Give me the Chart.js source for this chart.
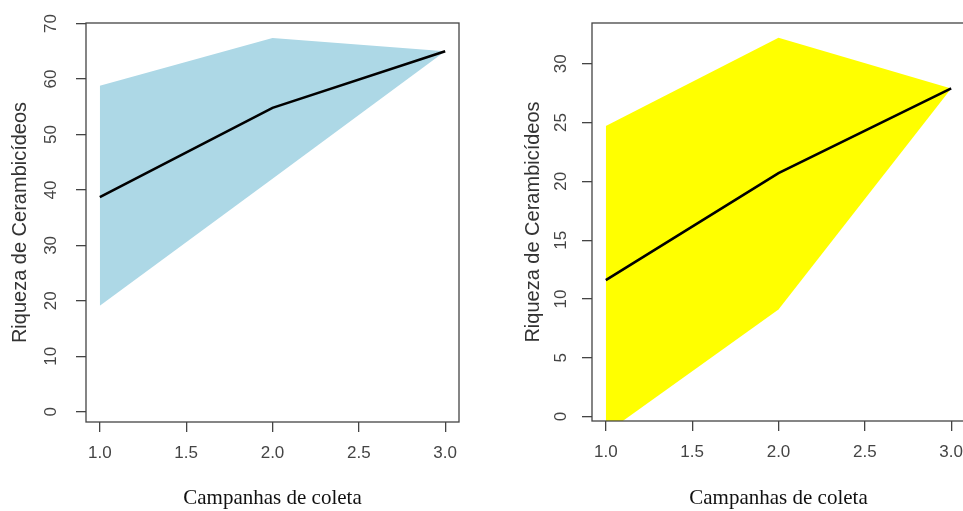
<!DOCTYPE html>
<html><head><meta charset="utf-8">
<script src="https://cdn.jsdelivr.net/npm/chart.js@4.4.1/dist/chart.umd.min.js"></script>
<style>
html,body{margin:0;padding:0;background:#fff;overflow:hidden;width:963px;height:511px;}
#wrap{position:relative;width:963px;height:511px;overflow:hidden;}
#c1{position:absolute;left:0;top:0;}
#c2{position:absolute;left:480px;top:0;}
</style></head><body>
<div id="wrap">
<canvas id="c1" width="480" height="511"></canvas>
<canvas id="c2" width="520" height="511"></canvas>
</div>
<script>
// ---- data ----
const campanhas = [1, 2, 3];
const xTicks = [1.0, 1.5, 2.0, 2.5, 3.0];
const leftUpper = [58.8, 67.4, 65.0];
const leftMean  = [38.7, 54.8, 65.0];
const leftLower = [19.1, 42.0, 65.0];
const leftYTicks = [0, 10, 20, 30, 40, 50, 60, 70];
const rightUpper = [24.7, 32.2, 27.9];
const rightMean  = [11.6, 20.7, 27.9];
const rightLower = [-1.4, 9.1, 27.9];
const rightYTicks = [0, 5, 10, 15, 20, 25, 30];
const xTitle = 'Campanhas de coleta';
const yTitle = 'Riqueza de Cerambicídeos';

Chart.defaults.font.family = '"Liberation Sans", Arial, sans-serif';

const framePlugin = {
  id: 'frame',
  afterDatasetsDraw(chart, args, opts) {
    const {ctx, chartArea: a} = chart;
    ctx.save();
    ctx.strokeStyle = '#444';
    ctx.lineWidth = 1.3;
    ctx.strokeRect(a.left, a.top, a.right - a.left, a.bottom - a.top);
    const ys = chart.scales.y;
    ctx.fillStyle = '#444';
    ctx.font = '17px "Liberation Sans", Arial, sans-serif';
    ctx.textAlign = 'center';
    ctx.textBaseline = 'middle';
    ys.ticks.forEach(t => {
      const py = ys.getPixelForValue(t.value);
      ctx.save();
      ctx.translate(opts.labelX, py);
      ctx.rotate(-Math.PI / 2);
      ctx.fillText(String(t.value), 0, 0);
      ctx.restore();
    });
    ctx.restore();
  }
};

function pts(ys) { return campanhas.map((x, i) => ({x: x, y: ys[i]})); }

function makeChart(id, upper, mean, lower, yTicks, yMin, yMax, fillColor, L) {
  return new Chart(document.getElementById(id), {
    type: 'line',
    data: {
      datasets: [
        {data: pts(mean), borderColor: '#000', borderWidth: 2.6, pointRadius: 0, fill: false, order: 0, tension: 0},
        {data: pts(upper), borderColor: 'rgba(0,0,0,0)', borderWidth: 0, pointRadius: 0, backgroundColor: fillColor, fill: '+1', order: 1, tension: 0},
        {data: pts(lower), borderColor: 'rgba(0,0,0,0)', borderWidth: 0, pointRadius: 0, fill: false, order: 1, tension: 0}
      ]
    },
    options: {
      responsive: false,
      animation: false,
      devicePixelRatio: 1,
      events: [],
      layout: {padding: {left: 0, top: L.top, right: L.right, bottom: 0}},
      plugins: {
        legend: {display: false},
        tooltip: {enabled: false},
        filler: {drawTime: 'beforeDatasetsDraw'},
        frame: {labelX: L.labelX}
      },
      scales: {
        x: {
          type: 'linear', min: 0.92, max: 3.08,
          afterBuildTicks: s => { s.ticks = xTicks.map(v => ({value: v})); },
          ticks: {callback: v => Number(v).toFixed(1), font: {size: 17}, color: '#444', padding: 11, maxRotation: 0, autoSkip: false},
          grid: {drawOnChartArea: false, drawTicks: true, tickLength: 10, color: '#444', lineWidth: 1.3},
          border: {display: false},
          title: {display: true, text: xTitle, font: {family: '"Liberation Serif", "Times New Roman", serif', size: 21}, color: '#111', padding: {top: 0, bottom: 0}},
          afterFit: s => { s.height = L.xHeight; s.paddingLeft = 0; s.paddingRight = 0; }
        },
        y: {
          type: 'linear', min: yMin, max: yMax,
          afterBuildTicks: s => { s.ticks = yTicks.map(v => ({value: v})); },
          ticks: {display: false},
          grid: {drawOnChartArea: false, drawTicks: true, tickLength: 10, color: '#444', lineWidth: 1.3},
          border: {display: false},
          title: {display: true, text: yTitle, font: {size: 20}, color: '#333', padding: {top: L.yTitlePad, bottom: 0}},
          afterFit: s => { s.width = L.yWidth; s.paddingTop = 0; s.paddingBottom = 0; }
        }
      }
    },
    plugins: [framePlugin]
  });
}

makeChart('c1', leftUpper, leftMean, leftLower, leftYTicks, -1.84, 70.1, '#ADD8E6',
  {top: 23, right: 21, xHeight: 89, yWidth: 86, yTitlePad: 8, labelX: 51});
makeChart('c2', rightUpper, rightMean, rightLower, rightYTicks, -0.37, 33.46, '#FFFF00',
  {top: 23, right: 35, xHeight: 90, yWidth: 112, yTitlePad: 41, labelX: 81});
</script>
</body></html>
